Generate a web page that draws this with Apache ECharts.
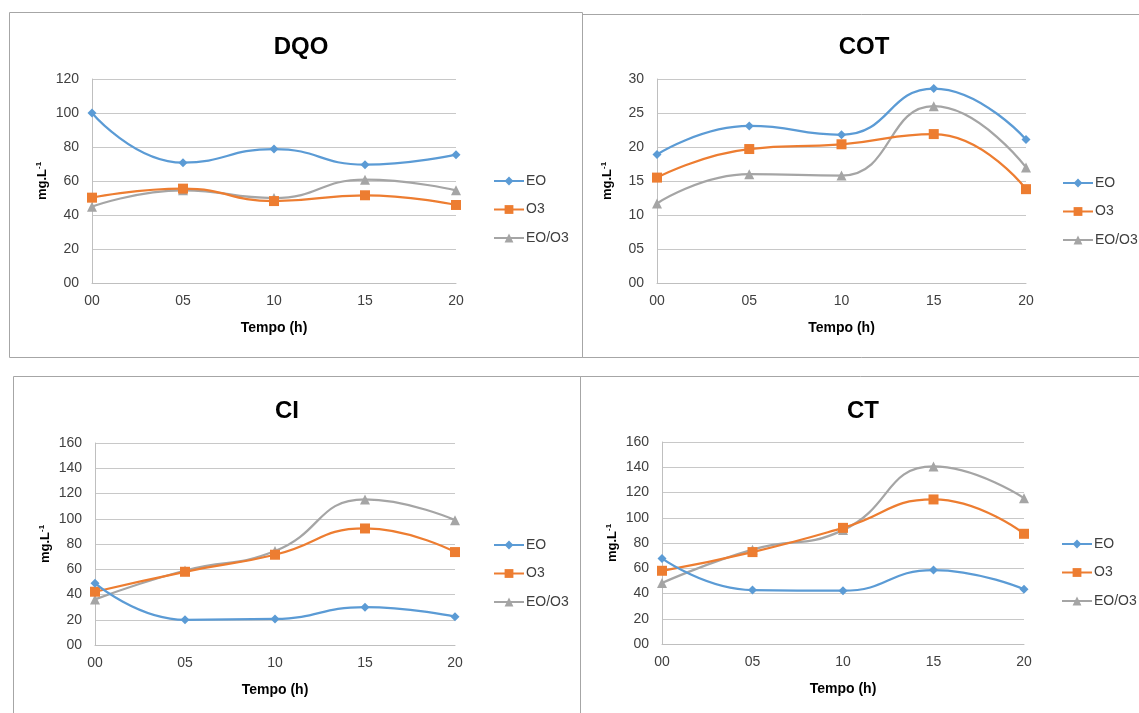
<!DOCTYPE html>
<html>
<head>
<meta charset="utf-8">
<script src="https://cdn.jsdelivr.net/npm/echarts@6/dist/echarts.min.js"></script>
<style>
html,body{margin:0;padding:0;background:#fff;}
#c{width:1139px;height:713px;}
</style>
</head>
<body>
<div id="c"></div>
<script>
// ---- data ----
const categories = ['00', '05', '10', '15', '20'];
const seriesNames = ['EO', 'O3', 'EO/O3'];

const dqoEO   = [100, 70.8, 78.8, 69.6, 75.5];
const dqoO3   = [50.2, 55.5, 48.2, 51.6, 45.9];
const dqoEOO3 = [44.9, 54.5, 50.0, 60.8, 54.5];

const cotEO   = [18.9, 23.1, 21.8, 28.6, 21.1];
const cotO3   = [15.5, 19.7, 20.4, 21.9, 13.8];
const cotEOO3 = [11.7, 16.0, 15.8, 26.0, 17.0];

const ciEO    = [49.0, 20.0, 20.6, 30.0, 22.4];
const ciO3    = [42.2, 58.0, 71.5, 92.3, 73.6];
const ciEOO3  = [36.1, 59.0, 74.4, 115.3, 98.9];

const ctEO    = [67.8, 42.7, 42.2, 58.6, 43.3];
const ctO3    = [58.0, 72.8, 92.0, 114.5, 87.3];
const ctEOO3  = [48.3, 74.7, 90.2, 140.6, 115.5];

const panelTitles = ['DQO', 'COT', 'CI', 'CT'];
const yAxisMax = [120, 30, 160, 160];
const yAxisStep = [20, 5, 20, 20];
const xAxisTitle = 'Tempo (h)';
const yAxisTitle = 'mg.L';
const yAxisTitleSup = '-1';

// ---- layout (positions/styles) ----
const panels = [
  {grid: {left: 92, top: 79, width: 364, height: 204}, title: [296, 30], legend: [488, 169], box: [9, 12, 573, 345]},
  {grid: {left: 657, top: 79, width: 369, height: 204}, title: [859, 30], legend: [1057, 171], box: [582, 14, 620, 343]},
  {grid: {left: 95, top: 443, width: 360, height: 202}, title: [282, 394], legend: [488, 533], box: [13, 376, 567, 400]},
  {grid: {left: 662, top: 442, width: 362, height: 202}, title: [858, 394], legend: [1056, 532], box: [580, 376, 620, 400]}
];
const panelData = [
  [dqoEO, dqoO3, dqoEOO3],
  [cotEO, cotO3, cotEOO3],
  [ciEO, ciO3, ciEOO3],
  [ctEO, ctO3, ctEOO3]
];
const colors = ['#5b9bd5', '#ed7d31', '#a5a5a5'];
const symbols = ['diamond', 'rect', 'triangle'];
const symbolSizes = [9, 10, 10];
const FONT = 'Liberation Sans, Arial, sans-serif';

const pad2 = v => (v < 10 ? '0' + v : String(v));

const option = {
  animation: false,
  backgroundColor: '#fff',
  title: [], grid: [], xAxis: [], yAxis: [], legend: [], series: [],
  graphic: []
};

panels.forEach((p, i) => {
  option.graphic.push({
    type: 'rect', silent: true, z: -1,
    shape: {x: p.box[0] + 0.5, y: p.box[1] + 0.5, width: p.box[2], height: p.box[3]},
    style: {fill: 'none', stroke: '#a6a6a6', lineWidth: 1}
  });
  option.title.push({
    text: panelTitles[i], left: p.title[0], top: p.title[1], textAlign: 'center',
    textStyle: {fontFamily: FONT, fontSize: 24, fontWeight: 'bold', color: '#000'}
  });
  option.grid.push(Object.assign({containLabel: false}, p.grid));
  option.xAxis.push({
    type: 'category', gridIndex: i, data: categories, boundaryGap: false,
    name: xAxisTitle, nameLocation: 'middle', nameGap: 38,
    nameTextStyle: {fontFamily: FONT, fontSize: 14, fontWeight: 'bold', color: '#000'},
    axisLine: {lineStyle: {color: '#bfbfbf', width: 1}},
    axisTick: {show: false},
    axisLabel: {fontFamily: FONT, fontSize: 14, color: '#404040', margin: 11},
    splitLine: {show: false}
  });
  option.yAxis.push({
    type: 'value', gridIndex: i, min: 0, max: yAxisMax[i], interval: yAxisStep[i],
    name: '{a|' + yAxisTitle + '}{b|' + yAxisTitleSup + '}',
    nameLocation: 'middle', nameGap: 42, nameRotate: 90,
    nameTextStyle: {
      rich: {
        a: {fontFamily: FONT, fontSize: 13, fontWeight: 'bold', color: '#000'},
        b: {fontFamily: FONT, fontSize: 8, fontWeight: 'bold', color: '#000', padding: [0, 0, 7, 0]}
      }
    },
    axisLine: {show: true, lineStyle: {color: '#bfbfbf', width: 1}},
    axisTick: {show: false},
    axisLabel: {fontFamily: FONT, fontSize: 14, color: '#404040', margin: 13, formatter: v => pad2(v)},
    splitLine: {show: true, lineStyle: {color: '#c8c8c8', width: 1}}
  });
  option.legend.push({
    orient: 'vertical', left: p.legend[0], top: p.legend[1],
    data: seriesNames, itemWidth: 30, itemHeight: 11, itemGap: 14.5,
    textStyle: {fontFamily: FONT, fontSize: 14, color: '#404040', padding: [0, 0, 0, -3]},
    selectedMode: false
  });
  panelData[i].forEach((vals, k) => {
    option.series.push({
      type: 'line', name: seriesNames[k], xAxisIndex: i, yAxisIndex: i,
      data: vals, smooth: 0.5,
      symbol: symbols[k], symbolSize: symbolSizes[k],
      lineStyle: {color: colors[k], width: 2.25},
      itemStyle: {color: colors[k]},
      z: 3 - k
    });
  });
});

const chart = echarts.init(document.getElementById('c'), null, {renderer: 'canvas'});
chart.setOption(option);
</script>
</body>
</html>
